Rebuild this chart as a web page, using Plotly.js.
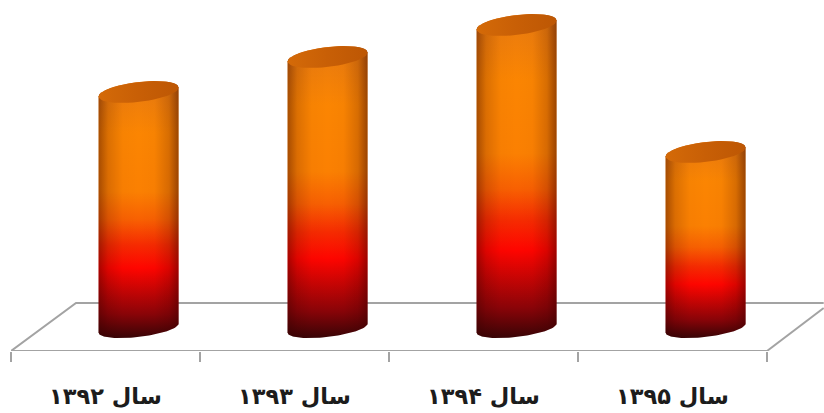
<!DOCTYPE html>
<html>
<head>
<meta charset="utf-8">
<script src="https://cdn.plot.ly/plotly-3.0.1.min.js"></script>
<style>html,body{margin:0;padding:0;background:#fff;overflow:hidden}</style>
</head>
<body>
<div id="chart" style="width:824px;height:413px"></div>
<script>
// Data (relative units)
const categories = ['سال ۱۳۹۲', 'سال ۱۳۹۳', 'سال ۱۳۹۴', 'سال ۱۳۹۵'];
const values = [236, 271, 303, 176];

// Styles
const bodyScale = [[0, '#3c0406'], [0.09, '#8a0408'], [0.27, '#ff0500'], [0.36, '#f62a01'], [0.46, '#f86002'], [0.57, '#fb8002'], [0.8, '#fb8502'], [1, '#e87a10']];
const sideShade = [[0, 'rgba(50,0,0,0.42)'], [0.12, 'rgba(50,0,0,0.16)'], [0.3, 'rgba(50,0,0,0.02)'], [0.5, 'rgba(50,0,0,0)'], [0.7, 'rgba(50,0,0,0.02)'], [0.88, 'rgba(50,0,0,0.18)'], [1, 'rgba(50,0,0,0.48)']];
const capScale = [[0, '#d46a08'], [0.5, '#c85f06'], [1, '#bd5704']];
const axisGray = '#a3a3a3';

const halfW = 0.2116, capB = 10, tilt = 4.5, baseB = 9;
const depthShift = 0.175;      // cylinders stand mid-way back on the floor
const STEPS = 48;

function arc(cx, cy, b, from, to) {
  const xs = [], ys = [];
  for (let i = 0; i <= STEPS; i++) {
    const t = from + (to - from) * i / STEPS;
    xs.push(cx + halfW * Math.cos(t));
    ys.push(cy + b * Math.sin(t) + tilt * Math.cos(t));
  }
  return [xs, ys];
}

const traces = [];
const floorFront = -23, floorBack = 25;
const xMin = -0.5, xMax = 3.5, xPage = 3.8;
const floorLine = {color: axisGray, width: 2};

// floor: left side, back edge, front edge, right side
traces.push({
  x: [xMax, xMin, xMin + 0.344, xPage], y: [floorFront, floorFront, floorBack, floorBack],
  mode: 'lines', line: floorLine, cliponaxis: false, hoverinfo: 'skip', showlegend: false
});
traces.push({
  x: [xMax, xPage], y: [floorFront, floorBack - 5],
  mode: 'lines', line: floorLine, cliponaxis: false, hoverinfo: 'skip', showlegend: false
});

values.forEach((v, k) => {
  const c = k + depthShift;
  const [bx, by] = arc(c, 0, baseB, Math.PI, 2 * Math.PI);
  const [tx, ty] = arc(c, v, capB, 0, Math.PI);
  const xs = [...bx, ...tx];
  const ys = [...by, ...ty];
  traces.push({
    x: xs, y: ys, mode: 'lines', fill: 'toself', line: {width: 0},
    fillgradient: {type: 'vertical', colorscale: bodyScale, start: -9, stop: v + 10},
    hoverinfo: 'skip', showlegend: false
  });
  traces.push({
    x: xs, y: ys, mode: 'lines', fill: 'toself', line: {width: 0},
    fillgradient: {type: 'horizontal', colorscale: sideShade, start: c - halfW, stop: c + halfW},
    hoverinfo: 'skip', showlegend: false
  });
  const [cx, cy] = arc(c, v, capB, 0, 2 * Math.PI);
  traces.push({
    x: cx, y: cy, mode: 'lines', fill: 'toself', line: {width: 0},
    fillgradient: {type: 'horizontal', colorscale: capScale, start: c - halfW, stop: c + halfW},
    hoverinfo: 'skip', showlegend: false
  });
});

const layout = {
  width: 824, height: 413,
  margin: {l: 11, r: 0, t: 0, b: 62},
  paper_bgcolor: '#fff', plot_bgcolor: 'rgba(0,0,0,0)',
  showlegend: false,
  xaxis: {
    type: 'linear', range: [xMin, xMin + 813 / 189], zeroline: false, showgrid: false,
    showline: false,
    tickmode: 'array', tickvals: [0, 1, 2, 3], ticktext: categories,
    ticks: '', ticklabelstandoff: 29,
    tickfont: {family: '"DejaVu Sans", sans-serif', size: 22.5, color: '#1c1c1c', weight: 'bold'},
    minor: {tickmode: 'array', tickvals: [-0.5, 0.5, 1.5, 2.5, 3.5], ticks: 'outside', ticklen: 10, tickwidth: 2, tickcolor: axisGray, showgrid: false}
  },
  yaxis: {range: [floorFront, 328], visible: false, zeroline: false, showgrid: false}
};

Plotly.newPlot('chart', traces, layout, {displayModeBar: false, staticPlot: true});
</script>
</body>
</html>
